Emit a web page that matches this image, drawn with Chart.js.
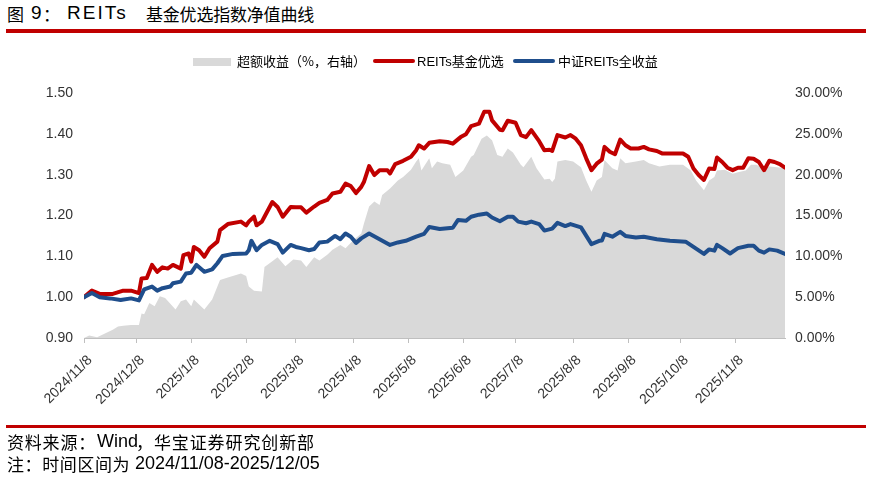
<!DOCTYPE html>
<html lang="zh-CN">
<head>
  <meta charset="UTF-8">
  <title>图9 REITs基金优选指数净值曲线</title>
  <script src="https://cdn.jsdelivr.net/npm/chart.js"></script>
  <style>
    body {
      margin: 0;
      width: 872px;
      height: 478px;
      position: relative;
      overflow: hidden;
      background: #fff;
      color: #000;
      font-family: "Liberation Sans", "Noto Sans CJK SC", sans-serif;
    }
    #chart { position: absolute; left: 0; top: 0; }
    .abs { position: absolute; white-space: nowrap; line-height: 20px; }
    .cjk { font-family: "Noto Sans CJK SC", sans-serif; }
    .lat { font-family: "Liberation Sans", sans-serif; }
    .rule { position: absolute; left: 6px; width: 860px; background: #c00000; }
    .legend { font-size: 13px; color: #000; }
    .swatch { position: absolute; }
  </style>
</head>
<body>
  <!-- 标题 -->
  <span class="abs cjk" style="left:7px;top:4px;font-size:17px;">图</span>
  <span class="abs lat" style="left:31px;top:3px;font-size:19px;">9</span>
  <span class="abs cjk" style="left:43px;top:4px;font-size:17px;">：</span>
  <span class="abs lat" style="left:67px;top:3px;font-size:19px;letter-spacing:2px;">REITs</span>
  <span class="abs cjk" style="left:146px;top:4px;font-size:17px;letter-spacing:-0.2px;">基金优选指数净值曲线</span>
  <div class="rule" style="top:29px;height:4px;"></div>

  <canvas id="chart" width="872" height="478"></canvas>

  <!-- 图例 -->
  <div class="swatch" style="left:193px;top:58px;width:38px;height:8px;background:#d9d9d9;"></div>
  <span class="abs cjk legend" style="left:237px;top:51px;">超额收益（%，右轴）</span>
  <div class="swatch" style="left:373px;top:59px;width:42px;height:4px;background:#c00000;border-radius:2px;"></div>
  <span class="abs legend" style="left:417px;top:51px;"><span class="lat">REITs</span><span class="cjk">基金优选</span></span>
  <div class="swatch" style="left:513px;top:59px;width:42px;height:4px;background:#1f4e8c;border-radius:2px;"></div>
  <span class="abs legend" style="left:558px;top:51px;"><span class="cjk">中证</span><span class="lat">REITs</span><span class="cjk">全收益</span></span>

  <div class="rule" style="top:425px;height:3px;"></div>
  <span class="abs cjk" style="left:7px;top:432px;font-size:17px;letter-spacing:0.8px;">资料来源：</span>
  <span class="abs lat" style="left:97px;top:431px;font-size:18px;">Wind</span>
  <span class="abs cjk" style="left:136px;top:432px;font-size:17px;letter-spacing:0.9px;">，华宝证券研究创新部</span>
  <span class="abs cjk" style="left:7px;top:454px;font-size:17px;letter-spacing:0.6px;">注：时间区间为</span>
  <span class="abs lat" style="left:135px;top:453px;font-size:18px;">2024/11/08-2025/12/05</span>

  <script>
    // 交易日序号（0 = 2024/11/08，268 = 2025/12/05）
    const lastDay = 268;
    const tickDays = [0, 20, 41, 62, 81, 103, 124, 145, 165, 187, 208, 228, 249];
    const tickLabels = ['2024/11/8', '2024/12/8', '2025/1/8', '2025/2/8', '2025/3/8', '2025/4/8',
      '2025/5/8', '2025/6/8', '2025/7/8', '2025/8/8', '2025/9/8', '2025/10/8', '2025/11/8'];

    // REITs基金优选
    const fundDays = [0, 3, 6, 11, 15, 18, 21, 22, 24, 26, 28, 30, 32, 34, 37, 38, 40, 41, 42, 44,
      46, 48, 51, 52, 55, 60, 62, 63, 65, 66, 68, 69, 72, 74, 76, 79, 81, 83, 85, 88,
      90, 93, 95, 98, 100, 102, 104, 106, 107, 109, 111, 113, 116, 117, 119, 122, 125, 127, 128, 130,
      132, 134, 136, 139, 141, 144, 146, 148, 151, 153, 155, 156, 159, 160, 162, 165, 167, 169, 171, 174,
      176, 178, 179, 181, 184, 186, 188, 190, 192, 194, 196, 198, 199, 201, 203, 205, 207, 209, 212, 214,
      216, 219, 221, 224, 229, 231, 233, 235, 237, 239, 241, 242, 244, 246, 248, 250, 252, 254, 256, 258,
      260, 262, 264, 266, 268];
    const fundNav = [1.000, 1.016, 1.008, 1.008, 1.016, 1.016, 1.010, 1.046, 1.047, 1.079, 1.062, 1.073, 1.070, 1.079, 1.070, 1.103, 1.107, 1.087, 1.123, 1.115,
      1.099, 1.120, 1.136, 1.164, 1.179, 1.185, 1.176, 1.185, 1.197, 1.176, 1.185, 1.197, 1.233, 1.221, 1.197, 1.221, 1.220, 1.220, 1.207, 1.222,
      1.231, 1.238, 1.254, 1.258, 1.278, 1.272, 1.255, 1.270, 1.282, 1.321, 1.299, 1.311, 1.311, 1.303, 1.326, 1.334, 1.344, 1.360, 1.372, 1.364,
      1.378, 1.380, 1.382, 1.380, 1.376, 1.392, 1.399, 1.419, 1.425, 1.454, 1.454, 1.433, 1.410, 1.409, 1.432, 1.427, 1.397, 1.392, 1.409, 1.382,
      1.360, 1.361, 1.358, 1.397, 1.391, 1.397, 1.388, 1.372, 1.340, 1.311, 1.327, 1.337, 1.368, 1.356, 1.350, 1.386, 1.372, 1.364, 1.364, 1.368,
      1.362, 1.358, 1.352, 1.352, 1.352, 1.344, 1.315, 1.299, 1.287, 1.315, 1.314, 1.342, 1.331, 1.317, 1.311, 1.317, 1.317, 1.340, 1.339, 1.331,
      1.311, 1.334, 1.331, 1.326, 1.317];

    // 中证REITs全收益
    const indexDays = [0, 3, 6, 10, 14, 18, 21, 23, 26, 28, 30, 33, 34, 37, 39, 41, 43, 46, 49, 51,
      53, 57, 62, 63, 64, 66, 68, 71, 74, 76, 79, 81, 83, 86, 88, 90, 93, 96, 98, 100,
      102, 104, 106, 109, 113, 117, 120, 123, 127, 130, 132, 136, 141, 143, 146, 148, 151, 154, 156, 159,
      162, 164, 166, 169, 171, 174, 176, 179, 181, 184, 186, 190, 194, 197, 198, 199, 202, 205, 207, 211,
      214, 219, 224, 230, 233, 237, 239, 241, 242, 244, 247, 250, 254, 256, 258, 260, 262, 265, 268];
    const indexNav = [1.000, 1.010, 1.000, 0.997, 0.993, 0.997, 0.992, 1.019, 1.026, 1.016, 1.022, 1.026, 1.034, 1.038, 1.058, 1.060, 1.079, 1.062, 1.068, 1.083,
      1.101, 1.106, 1.107, 1.115, 1.138, 1.115, 1.128, 1.138, 1.130, 1.109, 1.128, 1.123, 1.120, 1.115, 1.118, 1.134, 1.136, 1.150, 1.142, 1.156,
      1.148, 1.133, 1.144, 1.156, 1.142, 1.128, 1.134, 1.138, 1.148, 1.155, 1.172, 1.167, 1.170, 1.189, 1.187, 1.197, 1.202, 1.205, 1.195, 1.186,
      1.197, 1.197, 1.185, 1.181, 1.185, 1.179, 1.163, 1.168, 1.182, 1.174, 1.179, 1.171, 1.130, 1.138, 1.139, 1.155, 1.148, 1.160, 1.150, 1.146,
      1.148, 1.142, 1.138, 1.136, 1.123, 1.106, 1.117, 1.114, 1.128, 1.120, 1.107, 1.120, 1.126, 1.126, 1.114, 1.109, 1.117, 1.114, 1.106];

    // 超额收益（%，右轴）
    const excessDays = [0, 2, 5, 7, 11, 13, 15, 18, 21, 22, 23, 25, 27, 29, 31, 33, 35, 37, 39, 41,
      42, 46, 49, 52, 55, 60, 62, 63, 65, 68, 69, 72, 74, 77, 80, 83, 85, 88, 90, 93,
      95, 98, 100, 103, 106, 107, 109, 111, 113, 114, 117, 120, 122, 125, 127, 128, 129, 132, 133, 135,
      137, 140, 142, 145, 148, 149, 152, 154, 156, 158, 160, 162, 164, 167, 168, 171, 173, 176, 178, 179,
      180, 181, 184, 187, 190, 192, 194, 196, 198, 199, 202, 204, 205, 207, 211, 214, 216, 220, 224, 229,
      232, 234, 237, 239, 241, 242, 245, 248, 250, 253, 255, 257, 260, 262, 265, 268];
    const excessPct = [0.0, 0.3, 0.1, 0.4, 1.0, 1.4, 1.5, 1.6, 1.6, 3.0, 2.9, 4.3, 3.9, 5.1, 4.9, 4.2, 3.5, 4.5, 4.7, 3.9,
      4.7, 3.5, 4.7, 7.1, 7.4, 7.9, 7.6, 6.3, 5.8, 5.7, 8.7, 9.4, 9.9, 8.8, 9.6, 9.5, 8.7, 9.9, 9.5, 10.2,
      10.8, 11.4, 11.0, 12.0, 12.8, 14.0, 16.1, 16.7, 16.3, 17.5, 18.3, 19.3, 19.7, 20.6, 21.6, 22.0, 20.5, 22.0, 20.8, 21.6,
      21.4, 21.2, 19.7, 20.5, 22.2, 22.4, 24.4, 24.8, 24.2, 22.4, 22.2, 23.2, 22.7, 21.2, 20.9, 22.2, 20.8, 19.4, 19.5, 19.1,
      19.5, 21.6, 21.8, 21.6, 20.9, 19.3, 17.9, 19.3, 19.7, 21.8, 20.8, 20.5, 22.0, 21.4, 21.6, 21.8, 21.4, 21.0, 21.2, 21.2,
      20.5, 19.3, 18.1, 19.3, 19.7, 20.5, 20.6, 20.1, 20.3, 20.5, 21.2, 21.2, 20.8, 21.0, 20.9, 20.8];

    const toPoints = (xs, ys) => xs.map((x, i) => ({ x: x, y: ys[i] }));
    const tickFont = { family: 'Liberation Sans', size: 14 };

    new Chart(document.getElementById('chart'), {
      type: 'line',
      data: {
        datasets: [
          {
            label: '中证REITs全收益',
            data: toPoints(indexDays, indexNav),
            yAxisID: 'y',
            borderColor: '#1f4e8c',
            borderWidth: 4,
            pointRadius: 0,
            tension: 0,
            borderJoinStyle: 'round',
            borderCapStyle: 'round',
            order: 1
          },
          {
            label: 'REITs基金优选',
            data: toPoints(fundDays, fundNav),
            yAxisID: 'y',
            borderColor: '#c00000',
            borderWidth: 4,
            pointRadius: 0,
            tension: 0,
            borderJoinStyle: 'round',
            borderCapStyle: 'round',
            order: 2
          },
          {
            label: '超额收益（%，右轴）',
            data: toPoints(excessDays, excessPct),
            yAxisID: 'y2',
            fill: 'origin',
            backgroundColor: '#d9d9d9',
            borderWidth: 0,
            pointRadius: 0,
            tension: 0,
            order: 3
          }
        ]
      },
      options: {
        responsive: false,
        animation: false,
        devicePixelRatio: 1,
        layout: { padding: { left: 0, right: 0, top: 93, bottom: 50 } },
        plugins: {
          legend: { display: false },
          tooltip: { enabled: false }
        },
        scales: {
          x: {
            type: 'linear',
            min: 0,
            max: lastDay,
            afterBuildTicks: (scale) => { scale.ticks = tickDays.map(v => ({ value: v })); },
            afterFit: (scale) => { scale.height = 90; },
            ticks: {
              autoSkip: false,
              minRotation: 45,
              maxRotation: 45,
              padding: 9,
              labelOffset: 6,
              color: '#333',
              font: tickFont,
              callback: (value, i) => tickLabels[i]
            },
            grid: { drawOnChartArea: false, drawTicks: true, tickLength: 5, color: '#bfbfbf' },
            border: { display: true, color: '#bfbfbf' }
          },
          y: {
            position: 'left',
            min: 0.9,
            max: 1.5,
            afterFit: (scale) => { scale.width = 84; },
            ticks: { stepSize: 0.1, padding: 11, color: '#333', font: tickFont, callback: v => v.toFixed(2) },
            grid: { display: false, drawTicks: false },
            border: { display: false }
          },
          y2: {
            position: 'right',
            min: 0,
            max: 30,
            afterFit: (scale) => { scale.width = 87; },
            ticks: { stepSize: 5, padding: 10, color: '#333', font: tickFont, callback: v => v.toFixed(2) + '%' },
            grid: { display: false, drawTicks: false },
            border: { display: false }
          }
        }
      }
    });
  </script>
</body>
</html>
